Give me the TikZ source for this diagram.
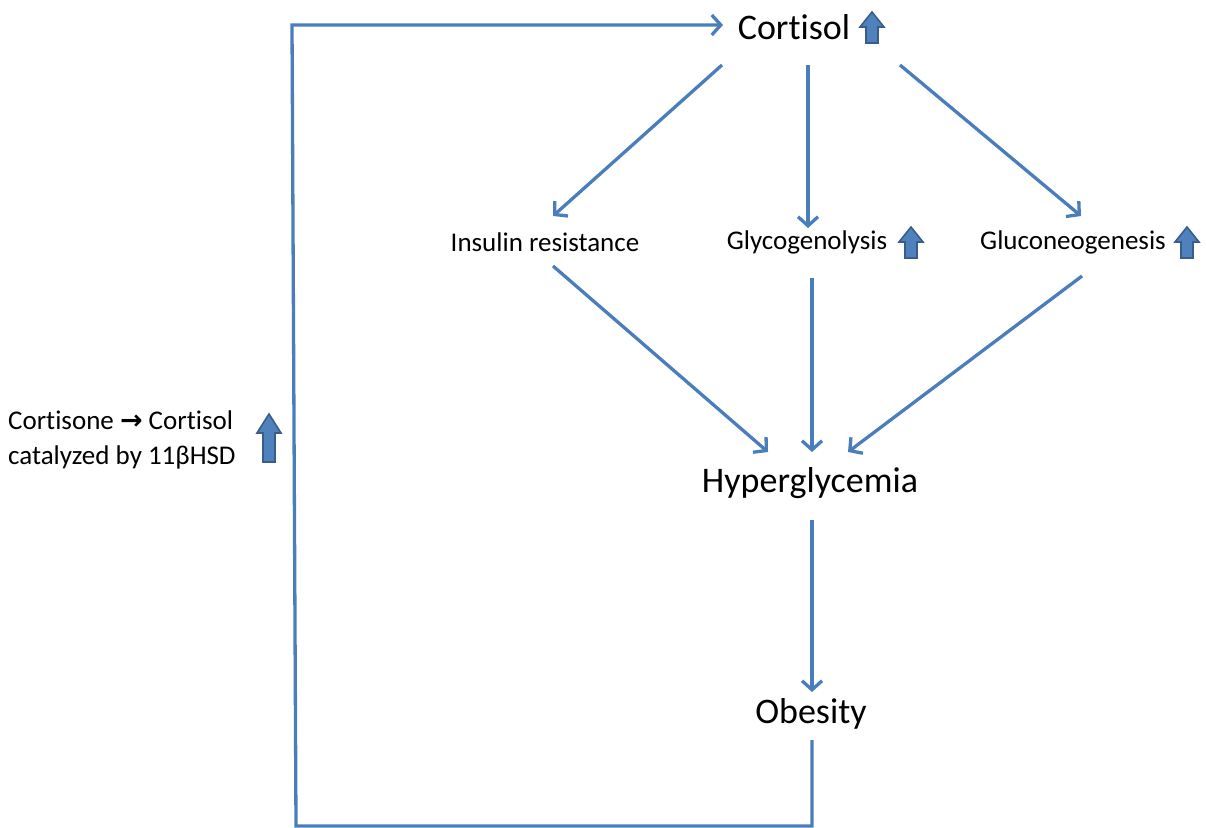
\documentclass[tikz,border=0pt]{standalone}
\usepackage{fontspec}
\setmainfont{Carlito}[Ligatures={NoCommon,NoRare}]
\newfontfamily\dejavu{DejaVu Sans}
\usetikzlibrary{arrows.meta,calc}
\definecolor{lineblue}{HTML}{4A7EBB}
\definecolor{upfill}{HTML}{4F81BD}
\definecolor{upedge}{HTML}{385D8A}
\tikzset{
  big/.style={font=\fontsize{36}{40}\selectfont, inner sep=0pt, anchor=center},
  small/.style={font=\fontsize{27}{36}\selectfont, inner sep=0pt, anchor=center},
  conn/.style={draw=lineblue, line width=3.3pt},
  arr/.style={conn, -{Straight Barb[length=9pt,width=20pt,line width=3.3pt]}},
  uparrow/.pic={
    \filldraw[fill=upfill, draw=upedge, line width=1.6pt, line join=miter]
      (-6,16) -- (-6,0) -- (-12,0) -- (0,-15) -- (12,0) -- (6,0) -- (6,16) -- cycle;
  },
  tallup/.pic={
    \filldraw[fill=upfill, draw=upedge, line width=1.6pt, line join=miter]
      (-6,24) -- (-6,-5) -- (-12,-5) -- (0,-24) -- (12,-5) -- (6,-5) -- (6,24) -- cycle;
  }
}
\begin{document}
\begin{tikzpicture}[x=1pt,y=-1pt]
\useasboundingbox (0,0) rectangle (1206,827);
% nodes
\node[big] (cort) at (794,27) {Cortisol};
\pic at (872,27) {uparrow};
\node[small] (ins) at (545,242) {Insulin resistance};
\node[small] (glyco) at (807,242) {Glycogenolysis};
\pic at (911,242) {uparrow};
\node[small] (gluco) at (1073,242) {Gluconeogenesis};
\pic at (1187,242) {uparrow};
\node[big] (hyper) at (810,483) {Hyperglycemia};
\node[big] (obes) at (811,714) {Obesity};
\node[small, align=left, anchor=west] (cortisone) at (8,440) {Cortisone {\dejavu\bfseries\fontsize{27}{30}\selectfont →} Cortisol\\[-1pt]catalyzed by 11βHSD};
\pic at (269,438) {tallup};
% endpoints
\coordinate (c1) at (722,65);
\coordinate (c2) at (808,65);
\coordinate (c3) at (900,65);
\coordinate (i1) at (553,216);
\coordinate (g1) at (808,228);
\coordinate (n1) at (1081,216);
\coordinate (i2) at (553,266);
\coordinate (g2) at (812,278);
\coordinate (n2) at (1082,276);
\coordinate (h1) at (768,452);
\coordinate (h2) at (812,452);
\coordinate (h3) at (848,452);
\coordinate (h4) at (812,520);
\coordinate (o1) at (812,692);
\coordinate (o2) at (812,740);
\coordinate (bl) at (296,826);
\coordinate (br) at (812,826);
\coordinate (tl) at (292,25);
\coordinate (tr) at (723,25);
% connectors
\draw[arr] (c1) -- (i1);
\draw[arr] (c2) -- (g1);
\draw[arr] (c3) -- (n1);
\draw[arr] (i2) -- (h1);
\draw[arr] (g2) -- (h2);
\draw[arr] (n2) -- (h3);
\draw[arr] (h4) -- (o1);
\draw[arr, line join=miter] (o2) -- (br) -- (bl) -- (tl) -- (tr);
\end{tikzpicture}
\end{document}
